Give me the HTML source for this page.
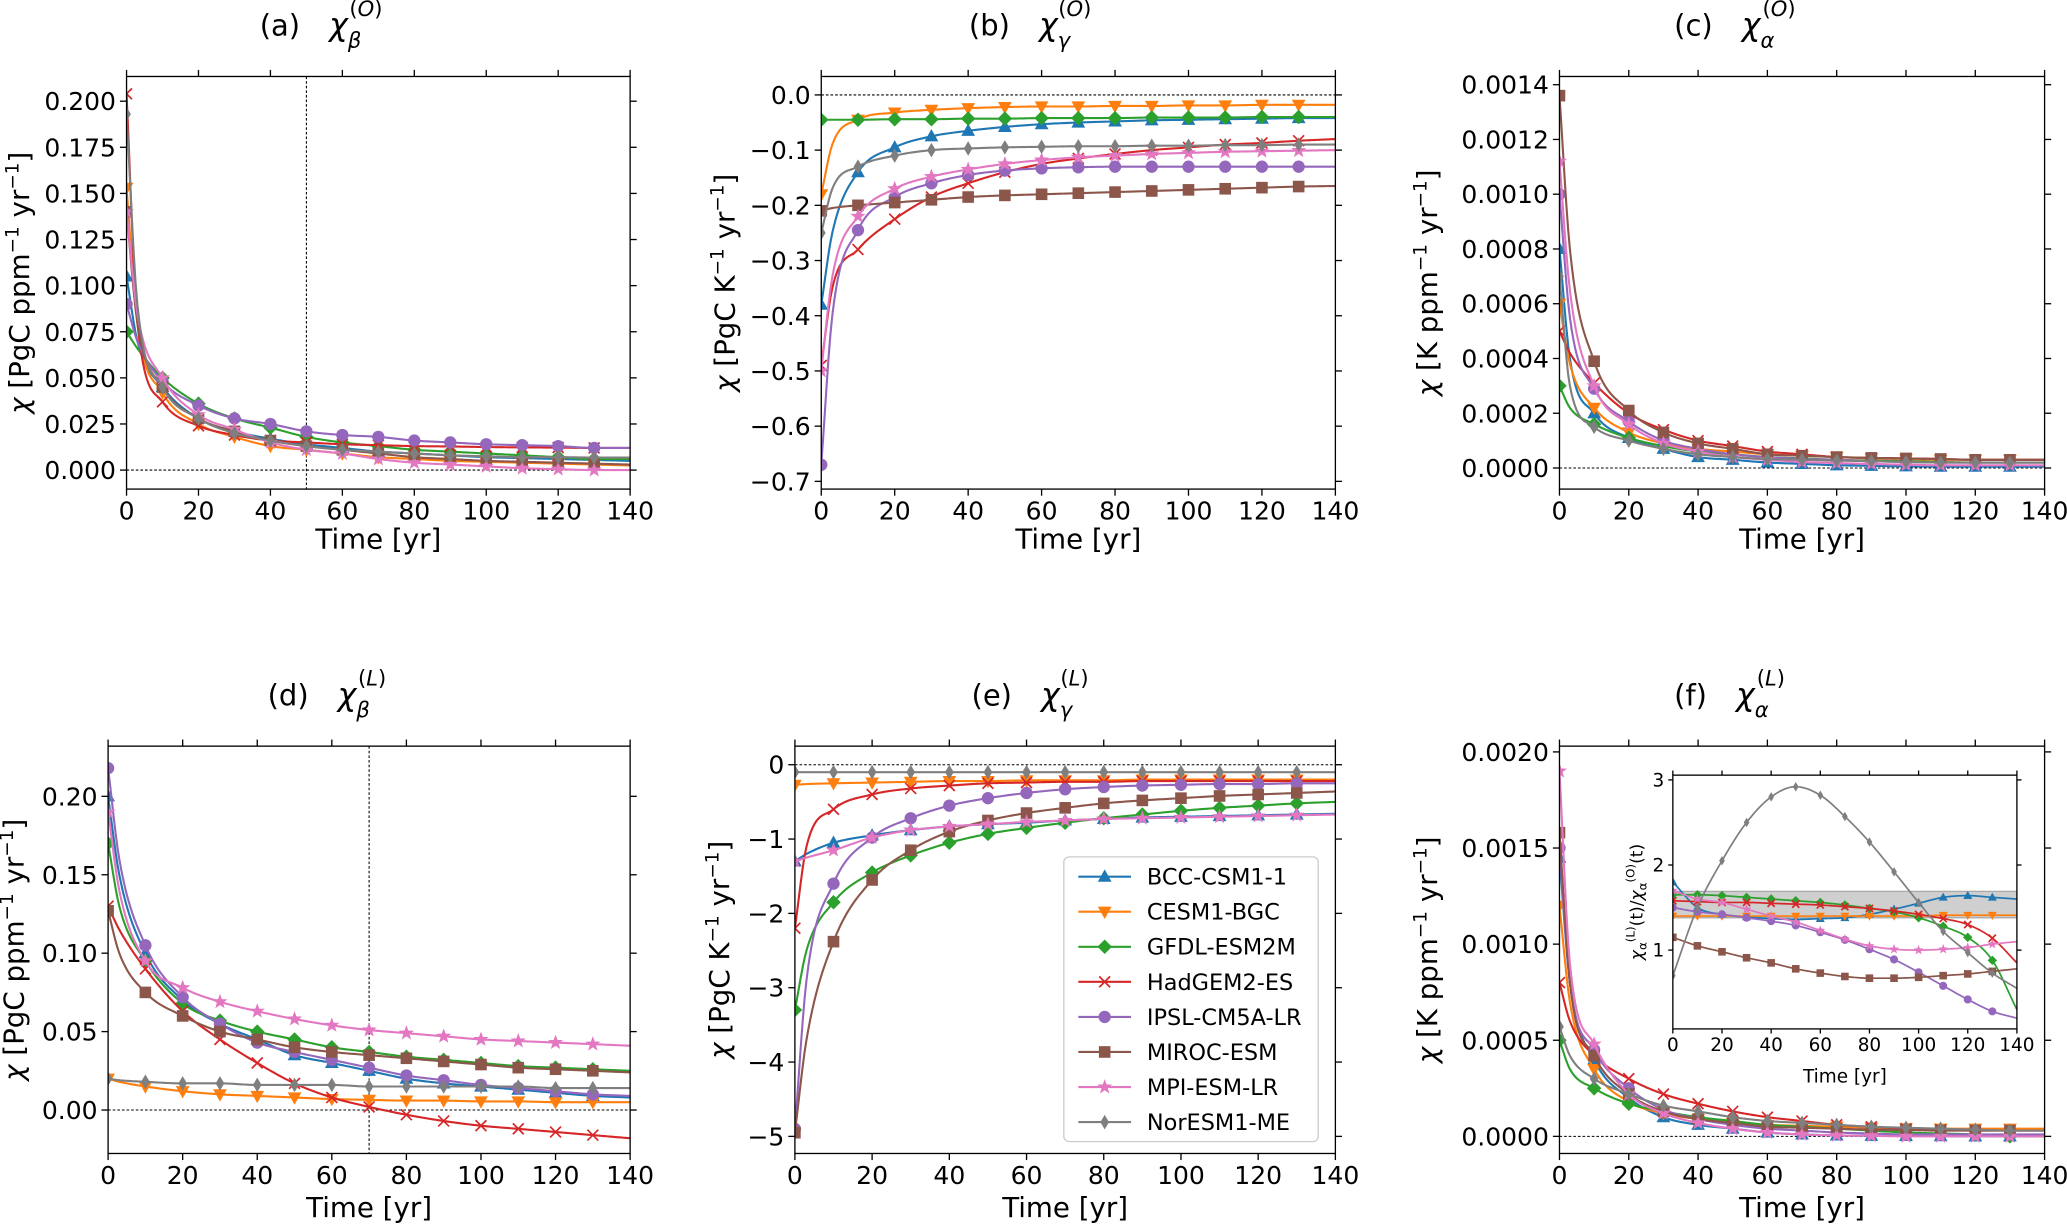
<!DOCTYPE html>
<html><head><meta charset="utf-8"><style>
html,body{margin:0;padding:0;background:#fff}
svg{display:block;font-family:"DejaVu Sans","Liberation Sans",sans-serif}
</style></head><body>
<svg id="fig" width="2067" height="1226" viewBox="0 0 1568 930" xmlns="http://www.w3.org/2000/svg"></svg>
<script>
// ---------- data ----------
const models = ["BCC-CSM1-1","CESM1-BGC","GFDL-ESM2M","HadGEM2-ES","IPSL-CM5A-LR","MIROC-ESM","MPI-ESM-LR","NorESM1-ME"];
const times = [0,3,10,20,30,40,50,60,70,80,90,100,110,120,130,140];
const insetTimes = [0,10,20,30,40,50,60,70,80,90,100,110,120,130,140];

const seriesA = [
 [0.105,0.07,0.045,0.028,0.021,0.017,0.014,0.012,0.010,0.009,0.008,0.007,0.0065,0.006,0.0055,0.005],
 [0.153,0.08,0.042,0.025,0.018,0.013,0.011,0.009,0.007,0.006,0.005,0.0045,0.004,0.0035,0.003,0.0025],
 [0.075,0.066,0.05,0.036,0.028,0.023,0.018,0.015,0.013,0.011,0.010,0.009,0.008,0.007,0.006,0.006],
 [0.204,0.08,0.037,0.024,0.019,0.016,0.015,0.014,0.0135,0.013,0.0128,0.0125,0.0123,0.0122,0.012,0.012],
 [0.09,0.07,0.048,0.035,0.028,0.025,0.021,0.019,0.018,0.016,0.015,0.014,0.0135,0.013,0.012,0.012],
 [0.14,0.08,0.045,0.028,0.021,0.016,0.013,0.011,0.009,0.007,0.006,0.005,0.0045,0.004,0.0035,0.003],
 [0.14,0.085,0.05,0.03,0.022,0.015,0.011,0.009,0.006,0.004,0.003,0.002,0.001,0.0005,0,0],
 [0.193,0.09,0.045,0.028,0.02,0.016,0.013,0.011,0.01,0.009,0.008,0.0075,0.007,0.007,0.0068,0.0068]];
const seriesB = [
 [-0.38,-0.25,-0.14,-0.095,-0.075,-0.065,-0.058,-0.053,-0.05,-0.048,-0.046,-0.045,-0.044,-0.043,-0.042,-0.042],
 [-0.18,-0.09,-0.045,-0.032,-0.027,-0.024,-0.022,-0.021,-0.021,-0.02,-0.02,-0.019,-0.019,-0.018,-0.018,-0.018],
 [-0.045,-0.045,-0.045,-0.044,-0.044,-0.043,-0.043,-0.042,-0.042,-0.042,-0.041,-0.041,-0.041,-0.04,-0.04,-0.04],
 [-0.49,-0.35,-0.28,-0.225,-0.185,-0.16,-0.14,-0.125,-0.115,-0.107,-0.1,-0.095,-0.09,-0.087,-0.083,-0.08],
 [-0.67,-0.4,-0.245,-0.185,-0.16,-0.145,-0.137,-0.133,-0.131,-0.13,-0.13,-0.13,-0.13,-0.13,-0.13,-0.13],
 [-0.21,-0.205,-0.2,-0.195,-0.19,-0.185,-0.182,-0.18,-0.178,-0.176,-0.174,-0.172,-0.17,-0.168,-0.166,-0.165],
 [-0.5,-0.33,-0.22,-0.17,-0.148,-0.135,-0.125,-0.118,-0.113,-0.11,-0.107,-0.105,-0.103,-0.102,-0.101,-0.1],
 [-0.25,-0.17,-0.13,-0.11,-0.1,-0.097,-0.095,-0.094,-0.093,-0.093,-0.092,-0.092,-0.091,-0.091,-0.09,-0.09]];
const seriesC = [
 [0.0008,0.0004,0.0002,0.00011,0.00007,0.00004,0.00003,0.00002,0.000015,0.00001,0.000008,0.000006,0.000005,0.000005,0.000005,0.000005],
 [0.0006,0.00038,0.00022,0.00013,0.00009,0.00007,0.00006,0.00005,0.000045,0.00004,0.000035,0.000033,0.00003,0.00003,0.00003,0.00003],
 [0.0003,0.00022,0.00016,0.00011,0.00008,0.00006,0.00005,0.00004,0.000035,0.00003,0.000027,0.000025,0.000022,0.00002,0.00002,0.00002],
 [0.0005,0.00042,0.00031,0.0002,0.00014,0.0001,0.00008,0.00006,0.00005,0.00004,0.000037,0.000035,0.000033,0.00003,0.00003,0.00003],
 [0.001,0.00055,0.00029,0.00017,0.0001,0.00007,0.00005,0.00004,0.000033,0.00003,0.000025,0.000022,0.00002,0.00002,0.00002,0.00002],
 [0.00136,0.0008,0.00039,0.00021,0.00013,0.00009,0.00007,0.00005,0.000045,0.00004,0.000037,0.000035,0.000033,0.00003,0.00003,0.00003],
 [0.00112,0.00065,0.0003,0.00016,0.00009,0.00006,0.00004,0.00003,0.000022,0.000018,0.000015,0.000012,0.00001,0.00001,0.00001,0.00001],
 [0.0007,0.0003,0.00015,0.0001,0.00007,0.00005,0.00004,0.000033,0.00003,0.000027,0.000025,0.000022,0.00002,0.00002,0.00002,0.00002]];
const seriesD = [
 [0.2,0.15,0.1,0.07,0.055,0.045,0.035,0.03,0.025,0.02,0.017,0.015,0.013,0.011,0.009,0.008],
 [0.02,0.018,0.015,0.012,0.01,0.009,0.008,0.007,0.0065,0.006,0.006,0.0055,0.0055,0.005,0.005,0.005],
 [0.17,0.13,0.095,0.068,0.057,0.05,0.045,0.04,0.037,0.034,0.032,0.03,0.028,0.027,0.026,0.025],
 [0.13,0.115,0.09,0.063,0.045,0.03,0.017,0.008,0.002,-0.003,-0.007,-0.01,-0.012,-0.014,-0.016,-0.018],
 [0.218,0.16,0.105,0.072,0.055,0.043,0.037,0.032,0.027,0.022,0.019,0.016,0.014,0.012,0.01,0.009],
 [0.127,0.1,0.075,0.06,0.05,0.045,0.04,0.037,0.035,0.033,0.031,0.029,0.027,0.026,0.025,0.024],
 [0.19,0.14,0.095,0.078,0.069,0.063,0.058,0.054,0.051,0.049,0.047,0.045,0.044,0.043,0.042,0.041],
 [0.02,0.019,0.018,0.017,0.017,0.016,0.016,0.016,0.015,0.015,0.015,0.015,0.015,0.014,0.014,0.014]];
const seriesE = [
 [-1.3,-1.2,-1.05,-0.95,-0.88,-0.83,-0.8,-0.78,-0.75,-0.73,-0.71,-0.7,-0.69,-0.68,-0.67,-0.66],
 [-0.27,-0.26,-0.25,-0.24,-0.23,-0.22,-0.22,-0.21,-0.21,-0.21,-0.2,-0.2,-0.2,-0.2,-0.2,-0.2],
 [-3.3,-2.5,-1.85,-1.45,-1.22,-1.05,-0.93,-0.85,-0.78,-0.72,-0.67,-0.62,-0.58,-0.55,-0.52,-0.5],
 [-2.2,-1.1,-0.6,-0.4,-0.32,-0.28,-0.25,-0.24,-0.23,-0.23,-0.22,-0.22,-0.22,-0.22,-0.22,-0.22],
 [-4.9,-2.9,-1.6,-0.98,-0.72,-0.55,-0.45,-0.38,-0.33,-0.3,-0.28,-0.27,-0.26,-0.26,-0.25,-0.25],
 [-4.95,-3.7,-2.38,-1.55,-1.15,-0.9,-0.75,-0.65,-0.58,-0.52,-0.48,-0.45,-0.42,-0.4,-0.38,-0.36],
 [-1.3,-1.25,-1.15,-0.98,-0.88,-0.83,-0.8,-0.77,-0.75,-0.73,-0.72,-0.71,-0.7,-0.69,-0.68,-0.67],
 [-0.1,-0.1,-0.1,-0.1,-0.1,-0.1,-0.1,-0.1,-0.1,-0.1,-0.1,-0.1,-0.1,-0.1,-0.1,-0.1]];
const seriesF = [
 [0.00145,0.0008,0.0004,0.0002,0.0001,0.00006,0.00004,0.00002,0.00001,0.000005,0.000003,0.000002,0.000001,0,0,0],
 [0.0012,0.0007,0.00035,0.00018,0.00012,0.00009,0.00007,0.00006,0.000055,0.00005,0.000045,0.000042,0.00004,0.00004,0.00004,0.00004],
 [0.0005,0.00035,0.00025,0.00017,0.00013,0.0001,0.00008,0.00006,0.00005,0.00004,0.00003,0.00002,0.000015,0.00001,0,0],
 [0.0008,0.0006,0.00042,0.0003,0.00022,0.00017,0.00013,0.0001,0.00008,0.00006,0.00005,0.00004,0.000035,0.00003,0.00003,0.00003],
 [0.0015,0.0008,0.00045,0.00025,0.00014,0.00009,0.00006,0.00004,0.00003,0.00002,0.000015,0.00001,0.00001,0.00001,0.00001,0.00001],
 [0.00158,0.0008,0.00042,0.00022,0.00013,0.00009,0.00007,0.00005,0.000045,0.00004,0.000035,0.000033,0.00003,0.00003,0.00003,0.00003],
 [0.0019,0.0009,0.00048,0.00022,0.00012,0.00007,0.00004,0.00002,0.00001,0.000005,0.000003,0,0,0,0,0],
 [0.00057,0.00042,0.0003,0.00022,0.00016,0.00013,0.0001,0.00008,0.00007,0.00006,0.00005,0.000045,0.00004,0.000035,0.00003,0.00003]];
const seriesInset = [
 [1.8,1.5,1.42,1.39,1.37,1.36,1.37,1.38,1.42,1.48,1.55,1.62,1.64,1.62,1.6],
 [1.4,1.4,1.4,1.4,1.4,1.4,1.4,1.4,1.4,1.4,1.4,1.41,1.41,1.41,1.41],
 [1.65,1.65,1.64,1.62,1.6,1.58,1.56,1.53,1.49,1.45,1.38,1.28,1.15,0.88,0.3],
 [1.58,1.57,1.56,1.56,1.55,1.54,1.53,1.51,1.49,1.46,1.42,1.37,1.3,1.14,0.85],
 [1.5,1.45,1.42,1.38,1.34,1.29,1.21,1.12,1.01,0.89,0.74,0.58,0.42,0.28,0.2],
 [1.15,1.05,0.98,0.91,0.85,0.78,0.73,0.69,0.67,0.67,0.68,0.7,0.72,0.75,0.78],
 [1.7,1.6,1.56,1.48,1.4,1.33,1.23,1.13,1.05,1.01,1.0,1.01,1.03,1.07,1.1],
 [0.7,1.5,2.05,2.5,2.8,2.92,2.82,2.57,2.27,1.92,1.56,1.22,0.97,0.73,0.55]];
const bandRange = [1.38, 1.69];
const xTicks = [0,20,40,60,80,100,120,140];
const ticksA = [0,0.025,0.05,0.075,0.1,0.125,0.15,0.175,0.2];
const ticksB = [0,-0.1,-0.2,-0.3,-0.4,-0.5,-0.6,-0.7];
const ticksC = [0,0.0002,0.0004,0.0006,0.0008,0.001,0.0012,0.0014];
const ticksD = [0,0.05,0.1,0.15,0.2];
const ticksE = [0,-1,-2,-3,-4,-5];
const ticksF = [0,0.0005,0.001,0.0015,0.002];
const ticksInset = [1,2,3];

// ---------- drawing ----------
const NS="http://www.w3.org/2000/svg";
const svg=document.getElementById('fig');
const colors=["#1f77b4","#ff7f0e","#2ca02c","#d62728","#9467bd","#8c564b","#e377c2","#7f7f7f"];
const shapes=["tri","vtri","diamond","x","circle","square","star","thin"];
function el(tag,attrs,parent){const e=document.createElementNS(NS,tag);for(const k in attrs)e.setAttribute(k,attrs[k]);(parent||svg).appendChild(e);return e;}
function fmt(v,d){const s=Math.abs(v).toFixed(d);return (v<0?"\u2212":"")+s;}

function marker(g,shape,x,y,s,c){
  let m;
  if(shape==="circle") m=el('circle',{cx:x,cy:y,r:s*0.85,fill:c},g);
  else if(shape==="square") m=el('rect',{x:x-s*0.8,y:y-s*0.8,width:s*1.6,height:s*1.6,fill:c},g);
  else if(shape==="tri") m=el('polygon',{points:`${x},${y-s} ${x-s*0.95},${y+s*0.7} ${x+s*0.95},${y+s*0.7}`,fill:c},g);
  else if(shape==="vtri") m=el('polygon',{points:`${x},${y+s} ${x-s*0.95},${y-s*0.7} ${x+s*0.95},${y-s*0.7}`,fill:c},g);
  else if(shape==="diamond") m=el('polygon',{points:`${x},${y-s} ${x+s},${y} ${x},${y+s} ${x-s},${y}`,fill:c},g);
  else if(shape==="thin") m=el('polygon',{points:`${x},${y-s} ${x+s*0.6},${y} ${x},${y+s} ${x-s*0.6},${y}`,fill:c},g);
  else if(shape==="x") m=el('path',{d:`M${x-s*0.75},${y-s*0.75}L${x+s*0.75},${y+s*0.75}M${x-s*0.75},${y+s*0.75}L${x+s*0.75},${y-s*0.75}`,stroke:c,'stroke-width':1.3,fill:'none'},g);
  else { let p=[];for(let i=0;i<10;i++){const r=i%2?s*0.45:s*1.1;const a=-Math.PI/2+i*Math.PI/5;p.push((x+r*Math.cos(a)).toFixed(2)+","+(y+r*Math.sin(a)).toFixed(2));}
    m=el('polygon',{points:p.join(' '),fill:c},g);}
  
  
  return m;
}

// monotone cubic interpolation
function monotone(xs,ys){
  const n=xs.length,d=[],m=new Array(n);
  for(let i=0;i<n-1;i++)d.push((ys[i+1]-ys[i])/(xs[i+1]-xs[i]));
  m[0]=d[0];m[n-1]=d[n-2];
  for(let i=1;i<n-1;i++){ if(d[i-1]*d[i]<=0)m[i]=0; else m[i]=(d[i-1]+d[i])/2; }
  for(let i=0;i<n-1;i++){ if(d[i]===0){m[i]=0;m[i+1]=0;continue;} const a=m[i]/d[i],b=m[i+1]/d[i],h=a*a+b*b; if(h>9){const t=3/Math.sqrt(h);m[i]=t*a*d[i];m[i+1]=t*b*d[i];} }
  return function(x){let i=0;while(i<n-2&&x>xs[i+1])i++;const h=xs[i+1]-xs[i],t=(x-xs[i])/h;const t2=t*t,t3=t2*t;
    return (2*t3-3*t2+1)*ys[i]+(t3-2*t2+t)*h*m[i]+(-2*t3+3*t2)*ys[i+1]+(t3-t2)*h*m[i+1];};
}

function axes(cfg){
  const g=el('g',{});
  
  
  const X=v=>cfg.x0+(v-cfg.xmin)/(cfg.xmax-cfg.xmin)*(cfg.x1-cfg.x0);
  const Y=v=>cfg.y1-(v-cfg.ymin)/(cfg.ymax-cfg.ymin)*(cfg.y1-cfg.y0);
  if(cfg.bg) el('rect',{x:cfg.x0,y:cfg.y0,width:cfg.x1-cfg.x0,height:cfg.y1-cfg.y0,fill:'#fff'},g);
  const clipId='clip'+cfg.name;
  const cp=el('clipPath',{id:clipId},g);el('rect',{x:cfg.x0,y:cfg.y0,width:cfg.x1-cfg.x0,height:cfg.y1-cfg.y0},cp);
  const plot=el('g',{'clip-path':`url(#${clipId})`},g);
  if(cfg.band){const r=el('rect',{x:X(0),y:Y(cfg.band[1]),width:X(140)-X(0),height:Y(cfg.band[0])-Y(cfg.band[1]),fill:'#cfcfcf',stroke:'#aaa','stroke-width':1},plot);
    }
  if(cfg.zero){const l=el('line',{x1:cfg.x0,x2:cfg.x1,y1:Y(0),y2:Y(0),stroke:'#000','stroke-width':0.8,'stroke-dasharray':'2,1.5'},plot);
    }
  if(cfg.vline!==undefined){const l=el('line',{x1:X(cfg.vline),x2:X(cfg.vline),y1:cfg.y0,y2:cfg.y1,stroke:'#000','stroke-width':0.8,'stroke-dasharray':'2,1.5'},plot);
    }
  cfg.data.forEach((ys,k)=>{
    const f=monotone(cfg.t,ys);let d='';
    for(let x=cfg.t[0];x<=cfg.t[cfg.t.length-1]+1e-9;x+=0.5){d+=(d?'L':'M')+X(x).toFixed(2)+','+Y(f(x)).toFixed(2);}
    const p=el('path',{d:d,fill:'none',stroke:colors[k],'stroke-width':cfg.lw||1.6},plot);
    
    
    cfg.t.forEach((t,i)=>{ if(t%10===0&&t<=130) marker(plot,shapes[k],X(t),Y(ys[i]),cfg.ms||5.5,colors[k]); });
  });
  el('rect',{x:cfg.x0,y:cfg.y0,width:cfg.x1-cfg.x0,height:cfg.y1-cfg.y0,fill:'none',stroke:'#000','stroke-width':1},g);
  const tl=cfg.tl||5,fs=cfg.fs||19;
  cfg.xt.forEach(v=>{const x=X(v);
    el('line',{x1:x,x2:x,y1:cfg.y1,y2:cfg.y1+tl,stroke:'#000','stroke-width':1},g);
    el('line',{x1:x,x2:x,y1:cfg.y0,y2:cfg.y0-tl,stroke:'#000','stroke-width':1},g);
    const t=el('text',{x:x,y:cfg.y1+tl+fs*0.95,'text-anchor':'middle','font-size':fs},g);t.textContent=v;
    });
  cfg.yt.forEach(v=>{const y=Y(v);
    el('line',{x1:cfg.x0,x2:cfg.x0-tl,y1:y,y2:y,stroke:'#000','stroke-width':1},g);
    el('line',{x1:cfg.x1,x2:cfg.x1+tl,y1:y,y2:y,stroke:'#000','stroke-width':1},g);
    const t=el('text',{x:cfg.x0-tl-3,y:y+fs*0.36,'text-anchor':'end','font-size':fs},g);t.textContent=fmt(v,cfg.dec);
    });
  const xl=el('text',{x:(cfg.x0+cfg.x1)/2,y:cfg.xly,'text-anchor':'middle','font-size':cfg.lfs||21},g);xl.textContent='Time [yr]';
  
  if(cfg.ylabel){
    const yc=(cfg.y0+cfg.y1)/2;
    const yl=el('text',{x:0,y:0,transform:`translate(${cfg.ylx},${yc}) rotate(-90)`,'text-anchor':'middle','font-size':cfg.lfs||21},g);
    
    yl.innerHTML=cfg.ylabel;
  }
  if(cfg.title){
    const t=el('text',{x:cfg.title[0],y:cfg.title[1],'font-size':22},g);
    
    t.innerHTML=`${cfg.title[2]}<tspan dx="22" font-style="italic" font-size="24">χ</tspan><tspan dy="9" font-size="16" font-style="italic">${cfg.title[3]}</tspan><tspan dx="-9" dy="-24" font-size="16">(<tspan font-style="italic">${cfg.title[4]}</tspan>)</tspan>`;
  }
  return g;
}
const ylC='<tspan font-style="italic">χ</tspan>  [PgC ppm<tspan dy="-8" font-size="14">−1</tspan><tspan dy="8"> yr</tspan><tspan dy="-8" font-size="14">−1</tspan><tspan dy="8">]</tspan>';
const ylG='<tspan font-style="italic">χ</tspan>  [PgC K<tspan dy="-8" font-size="14">−1</tspan><tspan dy="8"> yr</tspan><tspan dy="-8" font-size="14">−1</tspan><tspan dy="8">]</tspan>';
const ylK='<tspan font-style="italic">χ</tspan>  [K ppm<tspan dy="-8" font-size="14">−1</tspan><tspan dy="8"> yr</tspan><tspan dy="-8" font-size="14">−1</tspan><tspan dy="8">]</tspan>';

const r1={y0:58,y1:371,xly:416}, r2={y0:566,y1:875,xly:923};
axes({name:'panel-a',x0:96,x1:478,...r1,xmin:0,xmax:140,ymin:-0.0103,ymax:0.2134,t:times,data:seriesA,xt:xTicks,yt:ticksA,dec:3,zero:true,vline:50,ylx:22,ylabel:ylC,title:[197,27,'(a)','β','O']});
axes({name:'panel-b',x0:623,x1:1013,...r1,xmin:0,xmax:140,ymin:-0.714,ymax:0.0334,t:times,data:seriesB,xt:xTicks,yt:ticksB,dec:1,zero:true,ylx:557,ylabel:ylG,title:[735,27,'(b)','γ','O']});
axes({name:'panel-c',x0:1183,x1:1551,...r1,xmin:0,xmax:140,ymin:-0.000077,ymax:0.00143,t:times,data:seriesC,xt:xTicks,yt:ticksC,dec:4,zero:true,ylx:1090,ylabel:ylK,title:[1270,27,'(c)','α','O']});
axes({name:'panel-d',x0:82,x1:478,...r2,xmin:0,xmax:140,ymin:-0.0277,ymax:0.232,t:times,data:seriesD,xt:xTicks,yt:ticksD,dec:2,zero:true,vline:70,ylx:18,ylabel:ylC,title:[203,535,'(d)','β','L']});
axes({name:'panel-e',x0:603,x1:1013,...r2,xmin:0,xmax:140,ymin:-5.23,ymax:0.25,t:times,data:seriesE,xt:xTicks,yt:ticksE,dec:0,zero:true,ylx:553,ylabel:ylG,title:[737,535,'(e)','γ','L']});
axes({name:'panel-f',x0:1183,x1:1551,...r2,xmin:0,xmax:140,ymin:-0.000089,ymax:0.00203,t:times,data:seriesF,xt:xTicks,yt:ticksF,dec:4,zero:true,ylx:1090,ylabel:ylK,title:[1270,535,'(f)','α','L']});
axes({name:'inset-ratio',bg:true,x0:1269,x1:1530,y0:588,y1:780.5,xmin:0,xmax:140,ymin:0.074,ymax:3.056,t:insetTimes,data:seriesInset,band:bandRange,xt:xTicks,yt:ticksInset,dec:0,ms:3.6,lw:1.3,fs:14,tl:3.5,lfs:14,xly:821,ylx:1246,
  ylabel:'<tspan font-size="13" font-style="italic">χ</tspan><tspan font-size="9" dy="3">α</tspan><tspan font-size="9" dy="-9">(L)</tspan><tspan font-size="13" dy="6">(t)/</tspan><tspan font-size="13" font-style="italic">χ</tspan><tspan font-size="9" dy="3">α</tspan><tspan font-size="9" dy="-9">(O)</tspan><tspan font-size="13" dy="6">(t)</tspan>'});

// legend
const lg=el('g',{});


el('rect',{x:807,y:650,width:193,height:216,rx:4,fill:'#fff',stroke:'#ccc','stroke-width':1},lg);
models.forEach((m,k)=>{
  const y=665+26.6*k;
  const e=el('g',{},lg);
  
  
  el('line',{x1:818,x2:858,y1:y,y2:y,stroke:colors[k],'stroke-width':1.6},e);
  marker(e,shapes[k],838,y,5.5,colors[k]);
  const t=el('text',{x:870,y:y+6,'font-size':17},e);t.textContent=m;
});
</script>
</body></html>
